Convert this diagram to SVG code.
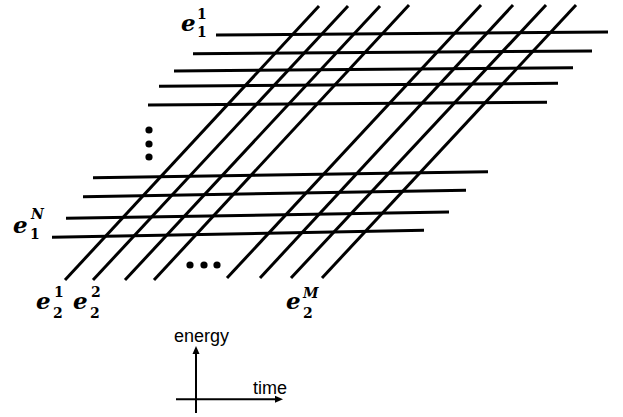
<svg xmlns="http://www.w3.org/2000/svg" width="623" height="417" viewBox="0 0 623 417">
<style>
.g{stroke:#000;stroke-width:3;stroke-linecap:butt;fill:none}
.ax{stroke:#000;stroke-width:2;fill:none}
.e{font-family:"DejaVu Serif","Liberation Serif",serif;font-weight:bold;font-style:italic;font-size:23px;fill:#000}
.s{font-family:"DejaVu Serif","Liberation Serif",serif;font-weight:bold;font-size:14px;fill:#000}
.si{font-family:"DejaVu Serif","Liberation Serif",serif;font-weight:bold;font-style:italic;font-size:14px;fill:#000}
.t{font-family:"Liberation Sans",Arial,sans-serif;font-size:18px;fill:#000}
</style>
<rect width="623" height="417" fill="#fff"/>
<g id="horizontal-lines" class="g">
<line x1="216" y1="35" x2="608" y2="32"/>
<line x1="193" y1="53.7" x2="592" y2="51"/>
<line x1="174" y1="71" x2="573" y2="67.7"/>
<line x1="159" y1="86.3" x2="558" y2="83.3"/>
<line x1="148" y1="105" x2="547" y2="102.3"/>
<line x1="93" y1="177.7" x2="488" y2="171.7"/>
<line x1="83" y1="196.7" x2="466" y2="190.3"/>
<line x1="66" y1="218.3" x2="449" y2="212"/>
<line x1="52" y1="237.3" x2="424" y2="230.3"/>
</g>
<g id="diagonal-lines" class="g">
<line x1="65" y1="280" x2="319" y2="6"/>
<line x1="93" y1="280" x2="348" y2="6"/>
<line x1="125" y1="280" x2="380" y2="6"/>
<line x1="154" y1="280" x2="409" y2="5"/>
<line x1="227" y1="278" x2="481" y2="5"/>
<line x1="260" y1="278" x2="513" y2="5"/>
<line x1="291" y1="278" x2="546" y2="5"/>
<line x1="322" y1="278" x2="576" y2="5"/>
</g>
<g id="dots" fill="#000">
<circle cx="149" cy="130" r="3.6"/>
<circle cx="149" cy="144" r="3.6"/>
<circle cx="149" cy="157" r="3.6"/>
<circle cx="190" cy="265" r="3.6"/>
<circle cx="204" cy="265" r="3.6"/>
<circle cx="217" cy="265" r="3.6"/>
</g>
<g id="label-e11">
<text class="e" x="181" y="31">e</text>
<text class="s" x="197" y="19">1</text>
<text class="s" x="197" y="37">1</text>
</g>
<g id="label-e1N">
<text class="e" x="13" y="233">e</text>
<text class="si" x="31" y="219">N</text>
<text class="s" x="30" y="239">1</text>
</g>
<g id="label-e21">
<text class="e" x="36" y="309">e</text>
<text class="s" x="54" y="297">1</text>
<text class="s" x="53" y="318">2</text>
</g>
<g id="label-e22">
<text class="e" x="73" y="309">e</text>
<text class="s" x="91" y="297">2</text>
<text class="s" x="90" y="318">2</text>
</g>
<g id="label-e2M">
<text class="e" x="286" y="309">e</text>
<text class="si" x="303" y="298">M</text>
<text class="s" x="303" y="318">2</text>
</g>
<g id="axes">
<line class="ax" x1="196" y1="413" x2="196" y2="352"/>
<polygon points="196,346 192.5,354 199.5,354" fill="#000"/>
<line class="ax" x1="176" y1="399.3" x2="277" y2="399.3"/>
<polygon points="283,399.3 275,395.8 275,402.8" fill="#000"/>
<text class="t" x="174" y="342">energy</text>
<text class="t" x="253" y="394">time</text>
</g>
</svg>
